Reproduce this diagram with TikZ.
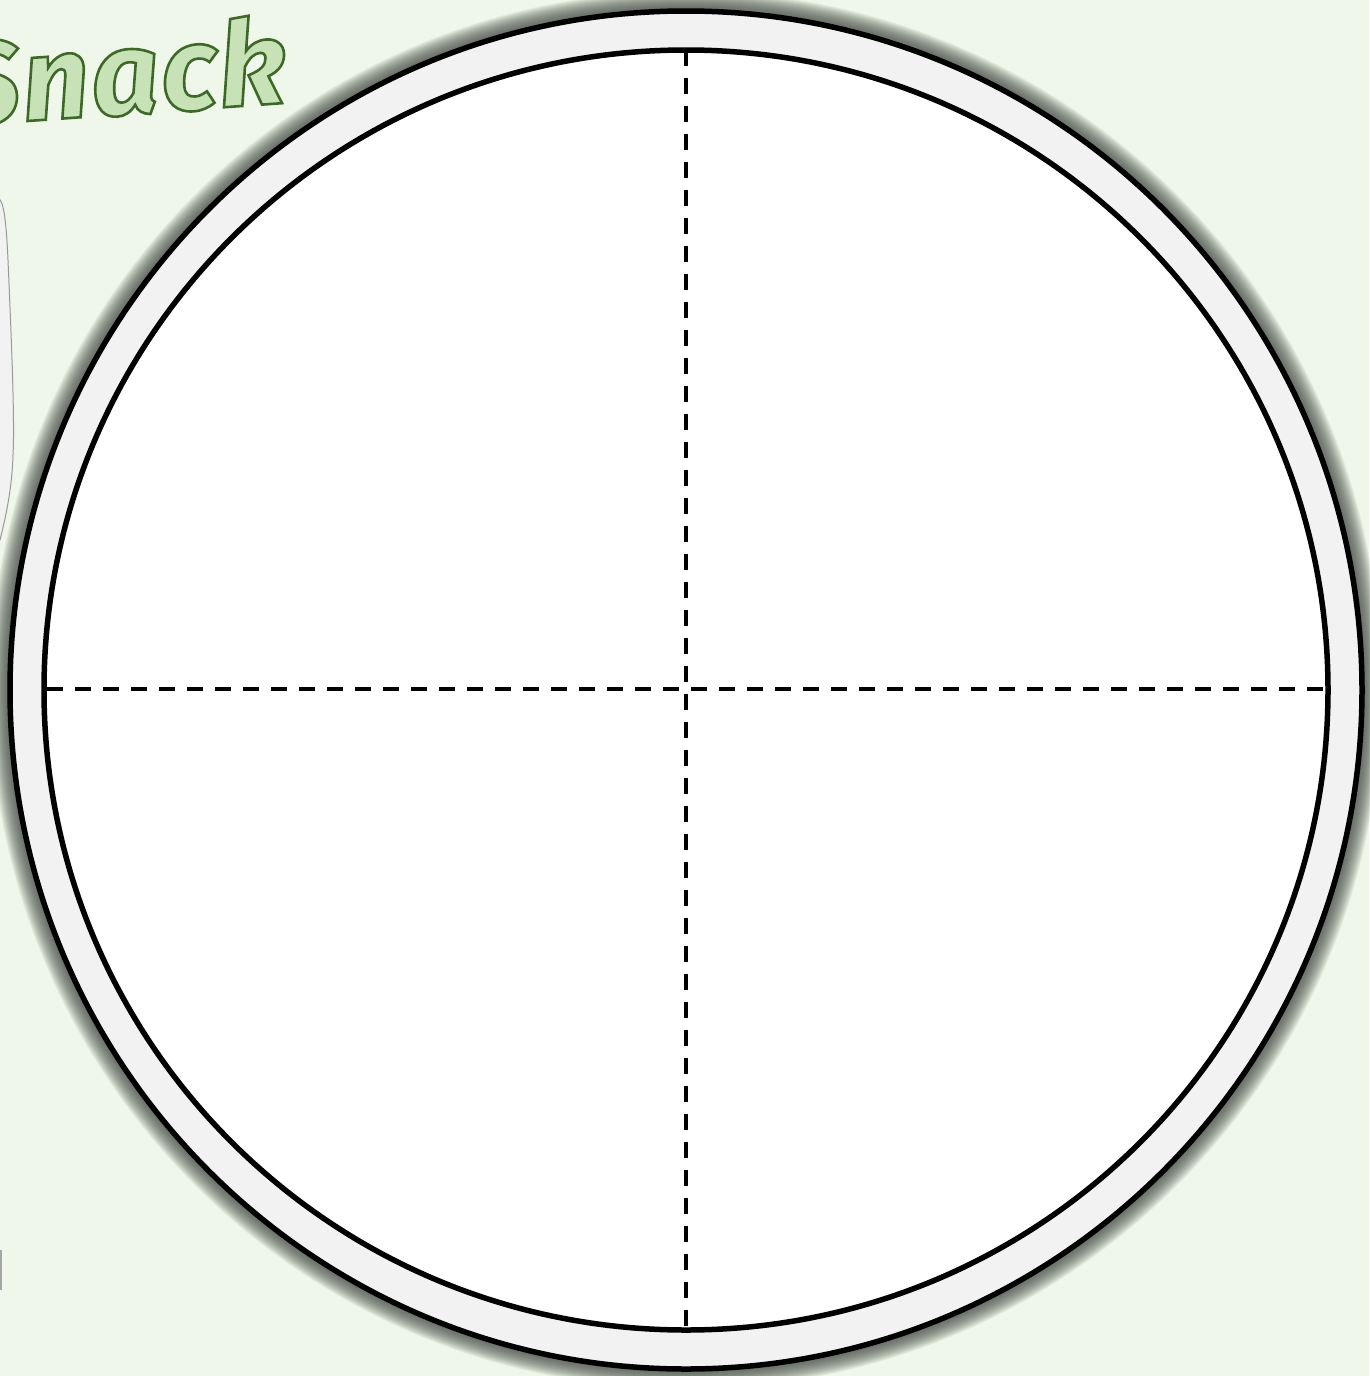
\documentclass[tikz,border=0pt]{standalone}
\usepackage{fontspec}
\setmainfont{Fira Sans}
\usetikzlibrary{calc}
\definecolor{bg}{RGB}{239,247,235}
\definecolor{ring}{RGB}{242,242,242}
\definecolor{shadowc}{RGB}{70,76,68}
\definecolor{snackfill}{RGB}{200,226,184}
\tikzset{
  rim/.style={line width=5.5pt, draw=black},
  cut/.style={line width=3.5pt, dash pattern=on 16pt off 12pt},
  snacktext/.style={font=\bfseries\itshape\fontsize{118}{118}\selectfont\addfontfeature{FakeBold=2.2, LetterSpace=2},
    anchor=base west, inner sep=0pt, rotate=4, text=snackfill},
}
\begin{document}
\begin{tikzpicture}[x=1pt,y=-1pt]
\fill[bg] (0,0) rectangle (1369,1376);
\useasboundingbox (0,0) rectangle (1369,1376);
% cutlery piece at left
\path[fill=black!5, draw=gray!80, line width=1pt]
  (-2,198) .. controls (3,200) and (6,215) .. (8,260)
  .. controls (11,330) and (15,420) .. (13,455)
  .. controls (12,490) and (5,520) .. (0,540) -- (-2,540) -- cycle;
\fill[gray!70] (-2,1250) rectangle (2,1290);
% shadow
\foreach \k in {20,19,...,1} {
  \fill[shadowc, opacity=0.075] (686,690) ellipse ({676+\k} and {679+\k});
}
% plate
\node[draw=none, inner sep=0pt] (c) at (686,690) {};
\filldraw[rim, fill=ring] (c) ellipse (676 and 679);
\filldraw[rim, fill=white] (c) ellipse (642 and 640);
\coordinate (t) at (686,50);
\coordinate (b) at (686,1330);
\coordinate (l) at (47,689);
\coordinate (r) at (1328,689);
\draw[cut] (t) -- (b);
\draw[cut] (l) -- (r);
% title
\node[snacktext] (title) at (-44,126) {\special{pdf:literal direct 0.243 0.408 0.157 RG}Snack};
\end{tikzpicture}
\end{document}
